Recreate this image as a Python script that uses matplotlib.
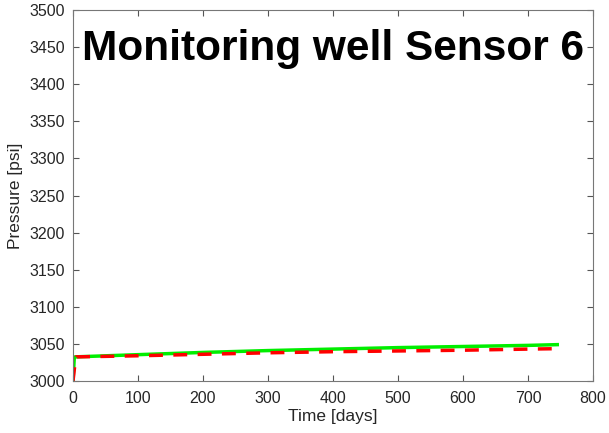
import numpy as np
import matplotlib.pyplot as plt

plt.rcParams['font.family'] = ['Liberation Sans', 'DejaVu Sans']

# observed (green) and simulated (red dashed) pressure
time_obs = [0, 2, 3, 100, 200, 300, 400, 500, 600, 700, 745]
p_obs = [3000, 3032, 3032.5, 3035.5, 3038.5, 3041, 3043, 3045, 3046.5, 3048, 3049]
time_sim = [0, 4, 5, 100, 200, 300, 400, 500, 600, 700, 740]
p_sim = [3000, 3031, 3032.5, 3034, 3036, 3038, 3039.5, 3040.5, 3041.5, 3043, 3043.5]

fig = plt.figure(figsize=(6.09, 4.33), dpi=100)
ax = fig.add_axes([73 / 609, 1 - 381 / 433, 520 / 609, 371 / 433])

ax.plot(time_obs, p_obs, color='#00ee00', lw=2.5)
ax.plot(time_sim, p_sim, color='#ff0000', lw=2.5, ls=(0, (4, 3)))

ax.set_xlim(0, 800)
ax.set_ylim(3000, 3500)
ax.set_xticks(np.arange(0, 801, 100))
ax.set_yticks(np.arange(3000, 3501, 50))
ax.tick_params(direction='in', top=True, right=True, labelsize=11.5,
               colors='#555555', labelcolor='#262626', length=4)
ax.tick_params(axis='y', pad=6)
ax.tick_params(axis='x', pad=7)
for s in ax.spines.values():
    s.set_color('#777777')
ax.set_xlabel('Time [days]', fontsize=12.5, color='#262626', labelpad=2)
ax.set_ylabel('Pressure [psi]', fontsize=12.5, color='#262626', labelpad=4)

ax.text(0.5, 0.895, 'Monitoring well Sensor 6', transform=ax.transAxes,
        ha='center', va='center', fontsize=30.5, fontweight='bold', color='black')

fig.savefig('out.png', dpi=100)
